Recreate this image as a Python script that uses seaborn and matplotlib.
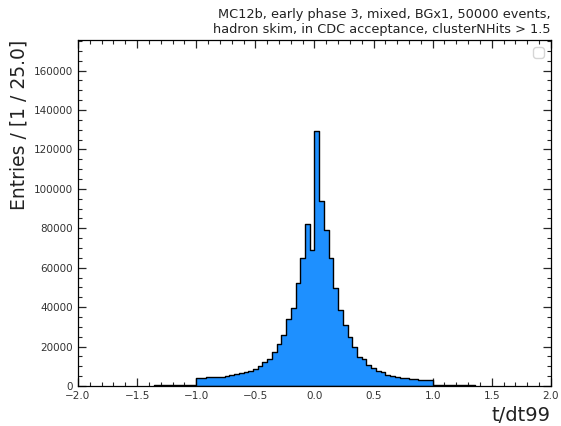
import numpy as np
import pandas as pd
import matplotlib
matplotlib.use("Agg")
import matplotlib.pyplot as plt
from matplotlib.ticker import MultipleLocator
import seaborn as sns

# Histogram contents: bins of width 0.04 starting at -1.36
bin_start = -1.36
bin_width = 0.04
counts = [
    250, 350, 400, 450, 450, 500, 550, 600, 650,              # -1.36 .. -1.04
    3900, 4200, 4300, 4400, 4500, 4700, 4900, 5400, 5900, 6400,  # -1.00 .. -0.64
    6900, 7800, 8800, 10000, 12100, 13500, 17100, 21300, 25700, 33900,  # -0.60 .. -0.24
    39700, 52300, 65000, 82400, 68900,                         # -0.20 .. -0.04
    129100, 93900, 79200, 65100, 49900,                        # 0.00 .. 0.16
    38600, 30800, 25000, 19600, 14600, 13500, 10700, 9100, 7800, 7000,  # 0.20 .. 0.56
    5700, 4900, 4500, 4200, 4000, 3700, 3500, 3200, 3100, 3000,  # 0.60 .. 0.96
    600, 550, 500, 450, 400, 400, 350, 300, 250,               # 1.00 .. 1.32
]
title_lines = ["MC12b, early phase 3, mixed, BGx1, 50000 events,",
               "hadron skim, in CDC acceptance, clusterNHits > 1.5"]
x_label = "t/dt99"
y_label = "Entries / [1 / 25.0]"

n_bins = len(counts)
edges = bin_start + bin_width * np.arange(n_bins + 1)
centers = 0.5 * (edges[:-1] + edges[1:])
df = pd.DataFrame({"tdt99": centers, "entries": counts})

sns.set_style("ticks")
plt.rcParams["font.family"] = ["DejaVu Sans"]

fig = plt.figure(figsize=(5.61, 4.26), dpi=100)
ax = fig.add_axes([0.139, 0.094, 0.843, 0.812])

sns.histplot(data=df, x="tdt99", weights="entries",
             binwidth=bin_width, binrange=(edges[0], edges[-1]),
             element="step", fill=True, color="#1E90FF", alpha=1.0,
             edgecolor="black", linewidth=1.0, ax=ax)

ax.set_xlim(-2.0, 2.0)
ax.set_ylim(0, 175500)
ax.xaxis.set_major_locator(MultipleLocator(0.5))
ax.xaxis.set_minor_locator(MultipleLocator(0.1))
ax.yaxis.set_major_locator(MultipleLocator(20000))
ax.yaxis.set_minor_locator(MultipleLocator(5000))
ax.tick_params(which="both", direction="in", top=True, right=True,
               labelsize=7.5, labelcolor="#333333")
ax.tick_params(which="major", length=6, width=0.9)
ax.tick_params(which="minor", length=3, width=0.8)
for s in ax.spines.values():
    s.set_linewidth(0.9)
    s.set_color("black")

ax.set_xlabel(x_label, fontsize=14, ha="right", x=1.0, color="#222222")
ax.set_ylabel(y_label, fontsize=13.5, ha="right", y=1.0, color="#222222")
ax.set_title("\n".join(title_lines), loc="right", fontsize=9.3, color="#222222", pad=5)

ax.legend(handles=[], labels=[], loc="upper right")

fig.savefig("out.png", dpi=100)
